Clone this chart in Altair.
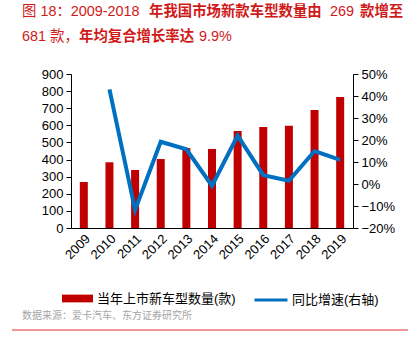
import altair as alt
import pandas as pd

years = ["2009", "2010", "2011", "2012", "2013", "2014", "2015", "2016", "2017", "2018", "2019"]
counts = [269, 384, 339, 403, 467, 462, 567, 590, 598, 690, 766]
growth = [None, 0.43, -0.118, 0.192, 0.158, -0.008, 0.22, 0.04, 0.015, 0.15, 0.11]
left_ticks = [0, 100, 200, 300, 400, 500, 600, 700, 800, 900]
right_ticks = [-0.2, -0.1, 0.0, 0.1, 0.2, 0.3, 0.4, 0.5]
bar_name = "当年上市新车型数量(款)"
line_name = "同比增速(右轴)"
# title segments: (text, weight, x offset from plot left, line index)
title_text = ["图 18：2009-2018", "年我国市场新款车型数量由", "269", "款增至",
              "681 款，", "年均复合增长率达", "9.9%"]
title_weight = ["normal", "bold", "normal", "bold", "normal", "bold", "normal"]
title_line = [0, 0, 0, 0, 1, 1, 1]
source_text = "数据来源：爱卡汽车、东方证券研究所"

FONT = "Liberation Sans, Arial, Noto Sans CJK SC"
RED = "#C00000"
BLUE = "#0070C0"
TITLE_RED = "#D01A1A"

df = pd.DataFrame({"year": years, "count": counts, "growth": growth,
                   "bar": bar_name, "line": line_name})

x_enc = alt.X("year:N", sort=years, title=None,
              scale=alt.Scale(paddingInner=0.0, paddingOuter=0.0),
              axis=alt.Axis(labelAngle=-45, ticks=False, domainColor="#000000",
                            labelFontSize=13, labelColor="#000000", labelFont=FONT,
                            labelPadding=4))

bars = alt.Chart(df).mark_bar(size=8, color=RED).encode(
    x=x_enc,
    y=alt.Y("count:Q", title=None,
            scale=alt.Scale(domain=[0, 900], nice=False),
            axis=alt.Axis(values=left_ticks, grid=False, domainColor="#000000",
                          tickColor="#000000", tickSize=5, labelFontSize=13,
                          labelColor="#000000", labelFont=FONT, labelPadding=3)),
    fill=alt.Fill("bar:N", scale=alt.Scale(domain=[bar_name], range=[RED]),
                  legend=alt.Legend(title=None, orient="none", legendX=-10, legendY=208,
                                    symbolType="M-1,-0.25H1V0.25H-1Z", symbolSize=961,
                                    labelFontSize=13, labelFont=FONT, labelColor="#000000",
                                    labelOffset=3)),
)

line = alt.Chart(df).transform_filter("datum.growth != null").mark_line(
    color=BLUE, strokeWidth=4, strokeJoin="miter", strokeCap="butt").encode(
    x=alt.X("year:N", sort=years),
    y=alt.Y("growth:Q", title=None,
            scale=alt.Scale(domain=[-0.2, 0.5], nice=False),
            axis=alt.Axis(orient="right", values=right_ticks, format=".0%", grid=False,
                          domainColor="#000000", tickColor="#000000", tickSize=5,
                          labelFontSize=13, labelColor="#000000", labelFont=FONT,
                          labelPadding=3)),
    stroke=alt.Stroke("line:N", scale=alt.Scale(domain=[line_name], range=[BLUE]),
                      legend=alt.Legend(title=None, orient="none", legendX=182, legendY=208,
                                        symbolType="stroke", symbolSize=1089,
                                        symbolStrokeWidth=3,
                                        labelFontSize=13, labelFont=FONT, labelColor="#000000",
                                        labelOffset=3)),
)

seg_x = [-49, 78, 259, 289, -49, 8, 128]
line_y = [-62, -37]
title_layers = []
for txt, wt, ln, sx in zip(title_text, title_weight, title_line, seg_x):
    title_layers.append(
        alt.Chart(alt.Data(values=[{"t": txt}])).mark_text(
            align="left", baseline="middle", fontSize=14.4, color=TITLE_RED, font=FONT,
            fontWeight=wt).encode(x=alt.value(sx), y=alt.value(line_y[ln]), text="t:N"))

src = alt.Chart(alt.Data(values=[{"t": source_text}])).mark_text(
    align="left", baseline="middle", fontSize=10, color="#A6A6A6", font=FONT).encode(
    x=alt.value(-49), y=alt.value(242), text="t:N")

rule = alt.Chart(alt.Data(values=[{"a": 1}])).mark_rule(color="#E03030", strokeWidth=1).encode(
    x=alt.value(-59), x2=alt.value(337), y=alt.value(256))

chart = alt.layer(bars, line, *title_layers, src, rule).resolve_scale(
    y="independent", fill="independent", stroke="independent"
).properties(
    width=282, height=154,
    autosize=alt.AutoSizeParams(type="none"),
    padding={"left": 71, "top": 74, "right": 55, "bottom": 125},
).configure_view(stroke=None)

chart.save("out.html", embed_options={"renderer": "svg", "actions": False})
